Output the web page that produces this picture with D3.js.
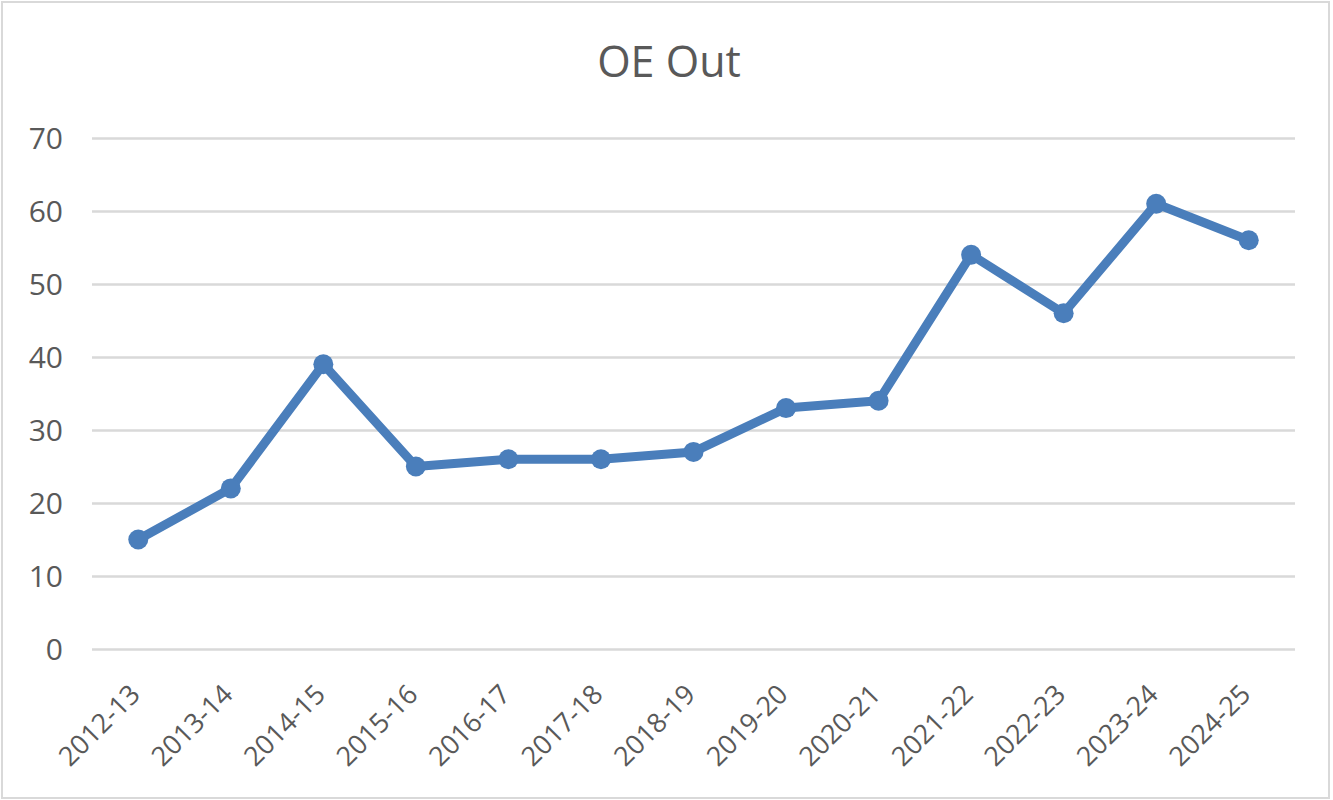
<!DOCTYPE html>
<html><head><meta charset="utf-8">
<script src="https://cdn.jsdelivr.net/npm/d3@7"></script>
<style>body{margin:0;background:#fff;} svg{display:block;}</style>
</head><body>
<svg id="c" width="1333" height="800"></svg>
<script>
const categories = ["2012-13","2013-14","2014-15","2015-16","2016-17","2017-18","2018-19","2019-20","2020-21","2021-22","2022-23","2023-24","2024-25"];
const values = [15,22,39,25,26,26,27,33,34,54,46,61,56];
const yTicks = [0,10,20,30,40,50,60,70];
const title = "OE Out";

const svg = d3.select("#c");
const font = "'Open Sans', 'Noto Sans', sans-serif";
svg.append("rect").attr("x",2).attr("y",2).attr("width",1327).attr("height",796)
  .attr("fill","#fff").attr("stroke","#d9d9d9").attr("stroke-width",2);

const m = {left:92, right:1295, top:138, bottom:649};
const x = d3.scalePoint().domain(categories).range([m.left,m.right]).padding(0.5);
const y = d3.scaleLinear().domain([0,70]).range([m.bottom,m.top]);

const yAxis = svg.append("g").attr("transform",`translate(${m.left},0)`)
  .call(d3.axisLeft(y).tickValues(yTicks).tickSize(-(m.right-m.left)).tickPadding(29));
yAxis.select(".domain").remove();
yAxis.selectAll(".tick line").attr("stroke","#d9d9d9").attr("stroke-width",2.5);
yAxis.selectAll(".tick text").attr("fill","#595959").style("font-family",font).style("font-size","30px")
  .attr("dy","0.36em");

const xAxis = svg.append("g").attr("transform",`translate(0,${m.bottom})`)
  .call(d3.axisBottom(x).tickSize(0));
xAxis.select(".domain").remove();
xAxis.selectAll(".tick text").attr("fill","#595959").style("font-family",font).style("font-size","27px")
  .attr("text-anchor","end").attr("dy",0).attr("y",0)
  .attr("transform","translate(3,47) rotate(-45)");

svg.append("text").attr("x",669).attr("y",77).attr("text-anchor","middle")
  .attr("fill","#595959").style("font-family",font).style("font-size","43px").text(title);

const line = d3.line().x((d,i)=>x(categories[i])).y(d=>y(d));
svg.append("path").datum(values).attr("d",line).attr("fill","none")
  .attr("stroke","#4a7ebb").attr("stroke-width",9).attr("stroke-linejoin","round");
svg.selectAll("circle.pt").data(values).enter().append("circle").attr("class","pt")
  .attr("cx",(d,i)=>x(categories[i])).attr("cy",d=>y(d)).attr("r",10).attr("fill","#4a7ebb");
</script>
</body></html>
